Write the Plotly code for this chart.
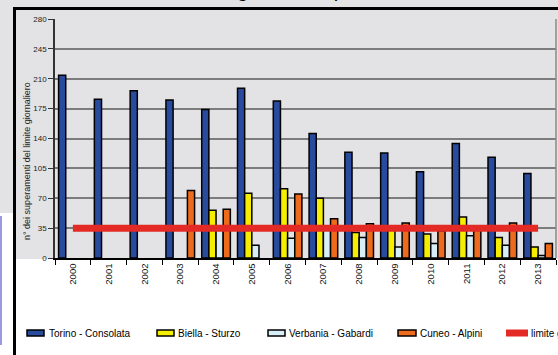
import plotly.graph_objects as go

years = ["2000", "2001", "2002", "2003", "2004", "2005", "2006",
         "2007", "2008", "2009", "2010", "2011", "2012", "2013"]
torino = [214, 186, 196, 185, 174, 199, 184, 146, 124, 123, 101, 134, 118, 99]
biella = [None, None, None, None, 56, 76, 81, 70, 30, 33, 28, 48, 24, 13]
verbania = [None, None, None, None, 33, 15, 23, 33, 24, 13, 17, 26, 15, 3]
cuneo = [None, None, None, 79, 57, None, 75, 46, 40, 41, 32, 34, 41, 17]
limite = [35, 35, 35, 35, 35, 35, 35, 35, 35, 35, 35, 35, 35, 35]

series_names = ["Torino - Consolata", "Biella - Sturzo", "Verbania - Gabardi",
                "Cuneo - Alpini", "limite giornaliero"]
colors = ["#284b9e", "#f6ee00", "#d8eef6", "#ee6a1c", "#e42a24"]

W, H = 558, 355
L, R, T, B = 55, 2, 19, 97
PW = W - L - R
PH = H - T - B
FONT = "Liberation Sans, Arial, sans-serif"


def px(x):
    return (x - L) / PW


def py(y):
    return (H - B - y) / PH


fig = go.Figure()
for name, vals, col in zip(series_names[:4], [torino, biella, verbania, cuneo], colors[:4]):
    fig.add_trace(go.Bar(x=years, y=vals, name=name, marker_color=col,
                         marker_line_color="black", marker_line_width=1.5))
fig.add_trace(go.Scatter(x=years, y=limite, name=series_names[4], mode="lines",
                         line=dict(color=colors[4], width=7)))

shapes = []
# gray background of top part
shapes.append(dict(type="rect", xref="paper", yref="paper", x0=px(0), x1=px(W), y0=py(0), y1=py(213),
                   fillcolor="#e3e3e5", line_width=0, layer="below"))
shapes.append(dict(type="rect", xref="paper", yref="paper", x0=px(13), x1=px(W), y0=py(213), y1=py(259),
                   fillcolor="#e3e3e5", line_width=0, layer="below"))
# left bluish element
shapes.append(dict(type="line", xref="paper", yref="paper", x0=px(1), x1=px(1), y0=py(216), y1=py(345),
                   line=dict(color="#9a9ade", width=2)))
# black frame
shapes.append(dict(type="line", xref="paper", yref="paper", x0=px(14.5), x1=px(14.5), y0=py(7), y1=py(H + 2),
                   line=dict(color="black", width=3)))
shapes.append(dict(type="line", xref="paper", yref="paper", x0=px(13), x1=px(W + 2), y0=py(8.5), y1=py(8.5),
                   line=dict(color="black", width=3)))
# right border of plot
shapes.append(dict(type="line", xref="paper", yref="paper", x0=1, x1=1, y0=0, y1=1,
                   line=dict(color="#8a8a8a", width=1.5)))

annotations = []
# legend (manual)
leg_y = 333
legend_items = [(27, 44, 47), (157, 174, 176), (268, 285, 287), (398, 416, 418), (506, 528, 529)]
for i, (s0, s1, tx) in enumerate(legend_items):
    if i < 4:
        shapes.append(dict(type="rect", xref="paper", yref="paper", x0=px(s0), x1=px(s1),
                           y0=py(leg_y + 3), y1=py(leg_y - 3), fillcolor=colors[i],
                           line=dict(color="black", width=1.5)))
    else:
        shapes.append(dict(type="rect", xref="paper", yref="paper", x0=px(s0), x1=px(s1),
                           y0=py(leg_y + 3.5), y1=py(leg_y - 3.5), fillcolor=colors[i], line_width=0))
    annotations.append(dict(text=series_names[i], xref="paper", yref="paper", x=px(tx), y=py(leg_y),
                            xanchor="left", yanchor="middle", showarrow=False,
                            font=dict(family=FONT, size=10, color="black")))

# y-axis title
annotations.append(dict(text="n° dei superamenti del limite giornaliero", xref="paper", yref="paper",
                        x=px(27), y=py(161), xanchor="center", yanchor="middle", textangle=-90,
                        showarrow=False, font=dict(family=FONT, size=9, color="#222222")))
# chart title (mostly cropped off the top)
annotations.append(dict(text="Andamento dei giorni di superamento", xref="paper", yref="paper",
                        x=px(263), y=py(3), xanchor="center", yanchor="bottom",
                        showarrow=False, font=dict(family=FONT, size=20, color="black")))

fig.update_layout(
    width=W, height=H,
    margin=dict(l=L, r=R, t=T, b=B, pad=0),
    paper_bgcolor="white", plot_bgcolor="#e3e3e5",
    barmode="group", bargap=0.2, bargroupgap=0,
    showlegend=False,
    shapes=shapes, annotations=annotations,
    font=dict(family=FONT),
    xaxis=dict(type="category", showgrid=False, showline=True, linecolor="black", linewidth=1.5,
               ticks="outside", tickson="boundaries", ticklen=5, tickcolor="black", tickwidth=1,
               tickangle=-90, tickfont=dict(family=FONT, size=9.5, color="#111111")),
    yaxis=dict(range=[0, 280], dtick=35, showgrid=True, gridcolor="#7c7c7c", gridwidth=1.5,
               zeroline=False, showline=True, linecolor="#333333", linewidth=1.5,
               ticks="outside", ticklen=5, tickcolor="#333333",
               tickfont=dict(family=FONT, size=8, color="#222222")),
)

fig.write_html("out.html")
